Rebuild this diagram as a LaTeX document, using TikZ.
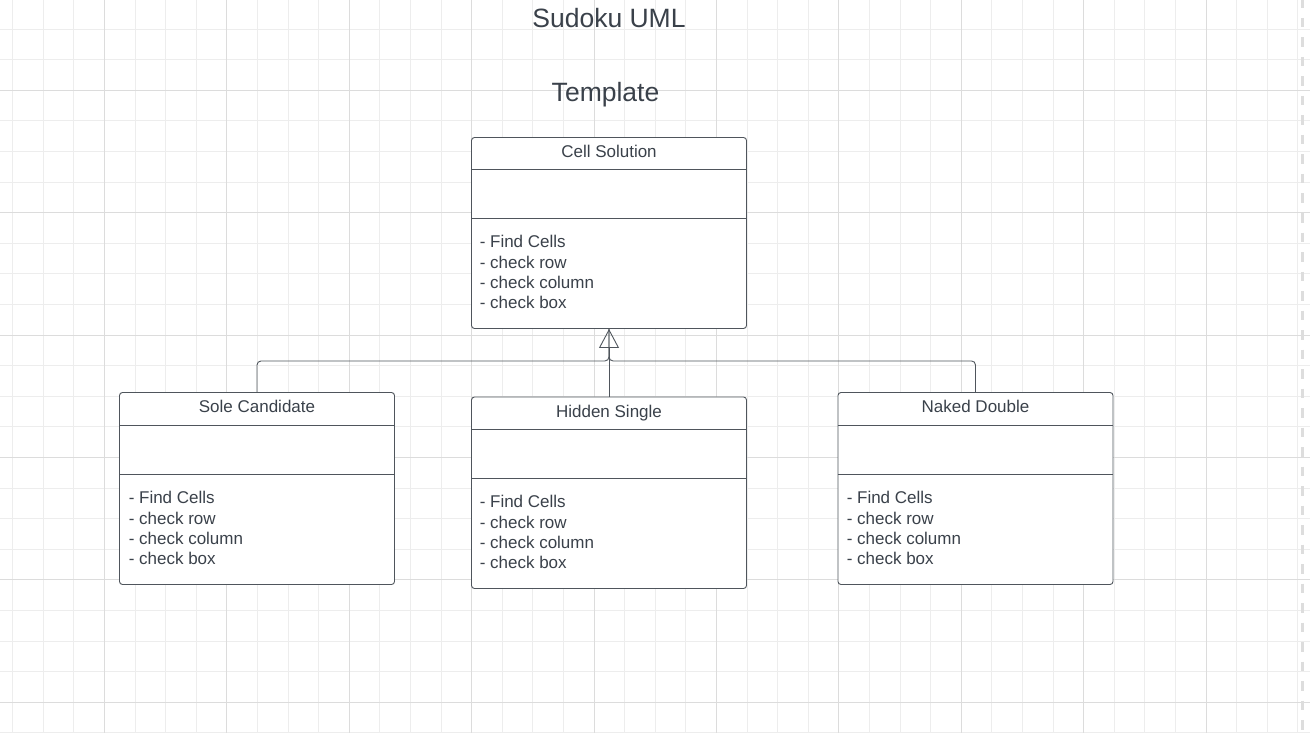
\documentclass[tikz,border=0pt]{standalone}
\usepackage{fontspec}
\setmainfont{Liberation Sans}
\usetikzlibrary{arrows.meta,calc}
\definecolor{txt}{HTML}{3A414A}
\definecolor{ln}{HTML}{4F555C}
\definecolor{gridminor}{HTML}{EDEDED}
\definecolor{gridmajor}{HTML}{DCDCDC}
\definecolor{edgedash}{HTML}{DDDDDD}
\begin{document}
\begin{tikzpicture}[x=1pt,y=-1pt,
 umlbox/.style={draw=ln, line width=0.9pt, rounded corners=3pt, fill=white, minimum width=275pt, inner sep=0pt},
 divider/.style={draw=ln, line width=0.9pt},
 head/.style={text=txt, font=\fontsize{17}{20}\selectfont, anchor=base, inner sep=0pt},
 ops/.style={text=txt, font=\fontsize{17}{20.3}\selectfont, align=left, anchor=north west, inner sep=0pt},
 titletext/.style={text=txt, font=\fontsize{26.5}{30}\selectfont, anchor=base, inner sep=0pt},
 conn/.style={draw=ln, line width=0.9pt, rounded corners=4pt},
 inherit/.style={-{Triangle[open, width=20pt, length=19pt, line width=0.9pt]}},
 gminor/.style={draw=gridminor, line width=0.9pt},
 gmajor/.style={draw=gridmajor, line width=1pt},
]
\fill[white] (0,0) rectangle (1310,733);
\useasboundingbox (0,0) rectangle (1310,733);
% grid
\foreach \i in {0,...,42} \draw[gminor] (12.7+30.6*\i,0) -- (12.7+30.6*\i,733);
\foreach \j in {0,...,23} \draw[gminor] (0,29.1+30.6*\j) -- (1310,29.1+30.6*\j);
\foreach \i in {0,...,9} \draw[gmajor] (104.5+122.4*\i,0) -- (104.5+122.4*\i,733);
\foreach \j in {0,...,5} \draw[gmajor] (0,90.3+122.4*\j) -- (1310,90.3+122.4*\j);
\draw[edgedash, line width=3pt, dash pattern=on 9.5pt off 10pt, dash phase=1.5pt] (1302,0) -- (1302,733);

% titles
\node[titletext] (title) at (609,28) {Sudoku UML};
\node[titletext] (tmpl) at (605.5,101.7) {Template};

% Cell Solution
\node[umlbox, minimum height=191pt] (cs) at (609,233) {};
\draw[divider] ($(cs.north west)+(0,32)$) -- ($(cs.north east)+(0,32)$);
\draw[divider] ($(cs.north west)+(0,81)$) -- ($(cs.north east)+(0,81)$);
\node[head] (csh) at ($(cs.north)+(0,20.6)$) {Cell Solution};
\node[ops] (cso) at ($(cs.north west)+(8.5,98.3)$) {- Find Cells\\- check row\\- check column\\- check box};

% Sole Candidate
\node[umlbox, minimum height=192pt] (sc) at (257,488.5) {};
\draw[divider] ($(sc.north west)+(0,33)$) -- ($(sc.north east)+(0,33)$);
\draw[divider] ($(sc.north west)+(0,82)$) -- ($(sc.north east)+(0,82)$);
\node[head] (sch) at ($(sc.north)+(0,20.8)$) {Sole Candidate};
\node[ops] (sco) at ($(sc.north west)+(9.5,99.2)$) {- Find Cells\\- check row\\- check column\\- check box};

% Hidden Single
\node[umlbox, minimum height=191.5pt] (hs) at (609,492.75) {};
\draw[divider] ($(hs.north west)+(0,32.5)$) -- ($(hs.north east)+(0,32.5)$);
\draw[divider] ($(hs.north west)+(0,81.5)$) -- ($(hs.north east)+(0,81.5)$);
\node[head] (hsh) at ($(hs.north)+(0,20.8)$) {Hidden Single};
\node[ops] (hso) at ($(hs.north west)+(8.5,98.8)$) {- Find Cells\\- check row\\- check column\\- check box};

% Naked Double
\node[umlbox, minimum height=192pt] (nd) at (975.5,488.5) {};
\draw[divider] ($(nd.north west)+(0,33)$) -- ($(nd.north east)+(0,33)$);
\draw[divider] ($(nd.north west)+(0,82)$) -- ($(nd.north east)+(0,82)$);
\node[head] (ndh) at ($(nd.north)+(0,20.8)$) {Naked Double};
\node[ops] (ndo) at ($(nd.north west)+(9,99.2)$) {- Find Cells\\- check row\\- check column\\- check box};

% connectors
\coordinate (jn) at ($(cs.south)+(0,32)$);
\draw[conn] (sc.north) |- (jn) -- (cs.south);
\draw[conn] (nd.north) |- (jn) -- (cs.south);
\draw[conn, inherit] (hs.north) -- (cs.south);
\end{tikzpicture}
\end{document}
